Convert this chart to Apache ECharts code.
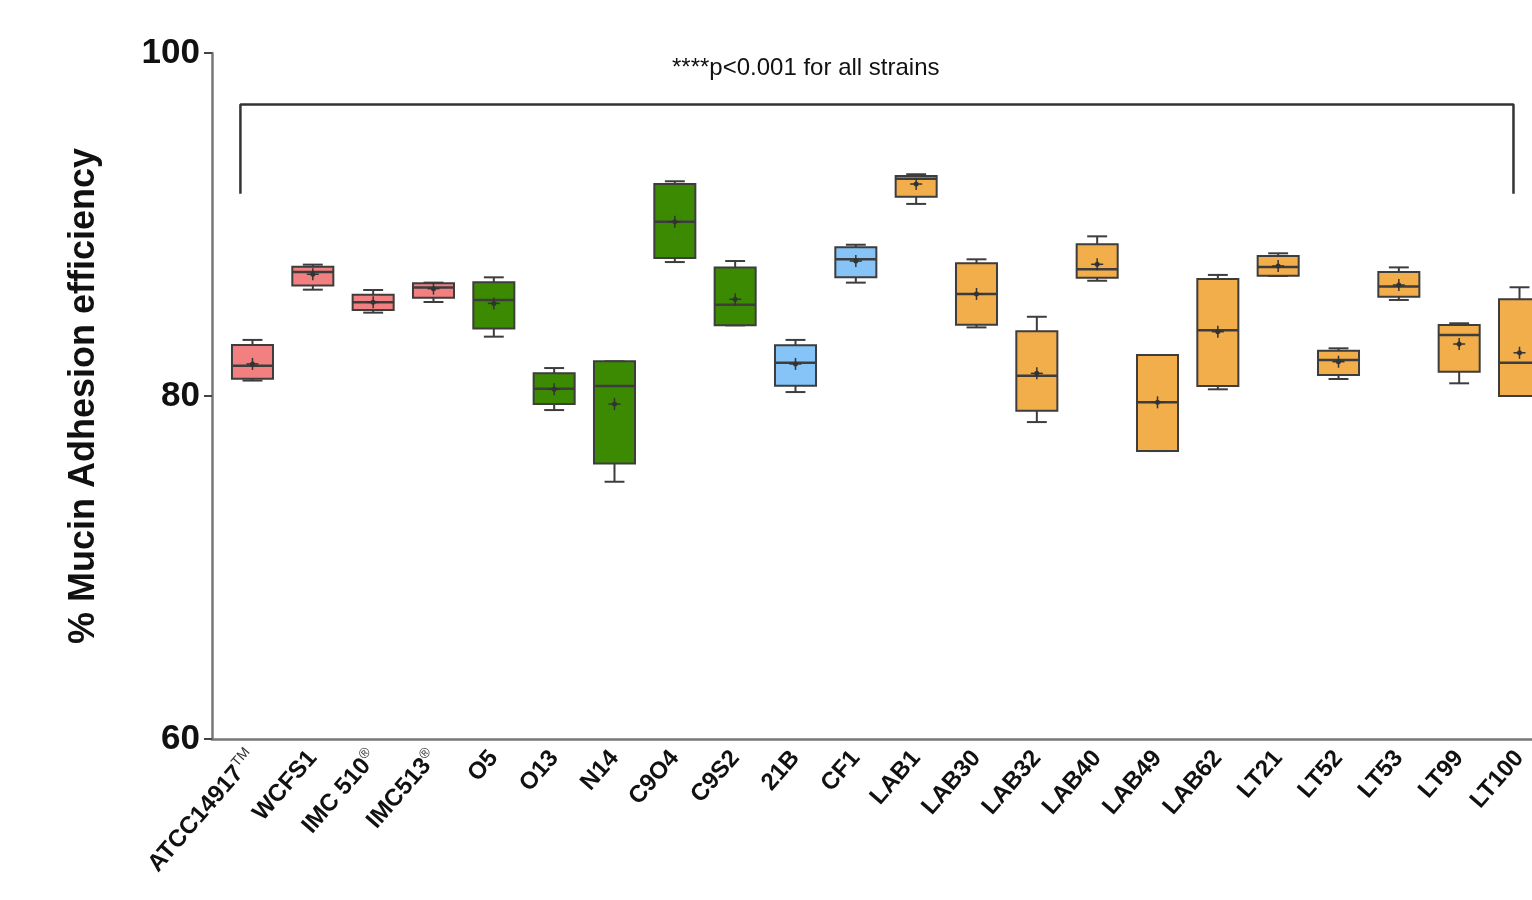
<!DOCTYPE html>
<html>
<head>
<meta charset="utf-8">
<script src="https://cdn.jsdelivr.net/npm/echarts@6/dist/echarts.min.js"></script>
<style>html,body{margin:0;padding:0;background:#fff}#c{width:1532px;height:900px}</style>
</head>
<body>
<div id="c"></div>
<script>
const categories = ['ATCC14917{sup|TM}','WCFS1','IMC 510{sup|®}','IMC513{sup|®}','O5','O13','N14','C9O4','C9S2','21B','CF1','LAB1','LAB30','LAB32','LAB40','LAB49','LAB62','LT21','LT52','LT53','LT99','LT100'];
const groups     = [0,0,0,0,1,1,1,1,1,2,2,3,3,3,3,3,3,3,3,3,3,3];
const whiskerLow = [80.9,86.2,84.86,85.48,83.46,79.18,75.0,87.81,84.12,80.23,86.61,91.2,84.0,78.48,86.72,76.79,80.39,87.0,80.99,85.6,80.74,80.0];
const q1Values   = [81.0,86.45,85.01,85.73,83.94,79.53,76.07,88.05,84.12,80.6,86.92,91.62,84.16,79.14,86.9,76.79,80.58,87.01,81.22,85.79,81.42,80.0];
const medians    = [81.77,87.23,85.46,86.32,85.6,80.43,80.58,90.16,85.32,81.94,87.97,92.67,85.95,81.18,87.39,79.63,83.83,87.52,82.1,86.38,83.56,81.94];
const q3Values   = [82.97,87.54,85.91,86.57,86.63,81.32,82.02,92.36,87.5,82.96,88.67,92.83,87.74,83.77,88.85,82.39,86.82,88.16,82.64,87.23,84.14,85.64];
const whiskerHigh= [83.27,87.66,86.18,86.61,86.92,81.63,82.02,92.52,87.87,83.27,88.82,92.93,87.97,84.62,89.31,82.39,87.06,88.32,82.78,87.5,84.24,86.34];
const means      = [81.87,87.1,85.46,86.26,85.4,80.39,79.53,90.16,85.64,81.87,87.87,92.36,85.95,81.32,87.68,79.63,83.75,87.58,82.0,86.47,83.03,82.52];
const groupColors = ['#F28080','#3C8A02','#86C4F7','#F2AE4B'];
const yTicks = [60, 80, 100];
const titleText = '****p<0.001 for all strains';
const bracketX = [-0.2, -0.2, 20.9, 20.9];
const bracketY = [91.8, 97.0, 97.0, 91.8];

const boxData = categories.map((c, i) => [i, whiskerLow[i], q1Values[i], medians[i], q3Values[i], whiskerHigh[i], means[i], groups[i]]);
const bracketData = bracketX.map((x, i) => [x, bracketY[i]]);

const chart = echarts.init(document.getElementById('c'));
const stroke = '#3d3d3d';
const FONT = 'Liberation Sans, Arial, sans-serif';

function renderBox(params, api) {
  const i = api.value(0);
  const unit = api.size([1, 0])[0];
  const hb = unit * 0.34, hc = unit * 0.165;
  const p = v => api.coord([i, v]);
  const cx = p(0)[0];
  const yLow = p(api.value(1))[1], yQ1 = p(api.value(2))[1], yMed = p(api.value(3))[1];
  const yQ3 = p(api.value(4))[1], yHigh = p(api.value(5))[1], yMean = p(api.value(6))[1];
  const color = groupColors[api.value(7)];
  const ls = {stroke: stroke, lineWidth: 2};
  return {
    type: 'group',
    children: [
      {type: 'line', shape: {x1: cx, y1: yHigh, x2: cx, y2: yQ3}, style: ls},
      {type: 'line', shape: {x1: cx, y1: yQ1, x2: cx, y2: yLow}, style: ls},
      {type: 'line', shape: {x1: cx - hc, y1: yHigh, x2: cx + hc, y2: yHigh}, style: ls},
      {type: 'line', shape: {x1: cx - hc, y1: yLow, x2: cx + hc, y2: yLow}, style: ls},
      {type: 'rect', shape: {x: cx - hb, y: yQ3, width: hb * 2, height: yQ1 - yQ3}, style: {fill: color, stroke: stroke, lineWidth: 2}},
      {type: 'line', shape: {x1: cx - hb, y1: yMed, x2: cx + hb, y2: yMed}, style: {stroke: stroke, lineWidth: 2.5}},
      {type: 'line', shape: {x1: cx - 6, y1: yMean, x2: cx + 6, y2: yMean}, style: {stroke: '#333', lineWidth: 1.5}},
      {type: 'line', shape: {x1: cx, y1: yMean - 6, x2: cx, y2: yMean + 6}, style: {stroke: '#333', lineWidth: 1.5}},
      {type: 'circle', shape: {cx: cx, cy: yMean, r: 2.5}, style: {fill: '#333'}}
    ]
  };
}

chart.setOption({
  animation: false,
  backgroundColor: '#fff',
  textStyle: {fontFamily: FONT},
  title: {
    text: titleText, left: 667, top: 51,
    textStyle: {fontSize: 24, fontWeight: 'normal', color: '#111', fontFamily: FONT}
  },
  grid: {left: 212, right: 0, top: 53, bottom: 161, containLabel: false},
  xAxis: {
    type: 'value', min: -0.671, max: 21.207,
    splitLine: {show: false},
    axisLine: {show: true, onZero: false, lineStyle: {color: '#777', width: 2.5}},
    axisTick: {show: false},
    axisLabel: {
      customValues: categories.map((c, i) => i),
      rotate: 49, margin: 15, color: '#111', fontSize: 24, fontWeight: 'bold',
      fontFamily: FONT,
      formatter: v => categories[Math.round(v)] || '',
      rich: {sup: {fontSize: 14, fontWeight: 'normal', verticalAlign: 'top', color: '#333', padding: [0, 0, 13, 0]}}
    }
  },
  yAxis: {
    type: 'value', min: 60, max: 100, interval: 20,
    splitLine: {show: false},
    axisLine: {show: true, onZero: false, lineStyle: {color: '#777', width: 2.5}},
    axisTick: {show: true, length: 8, lineStyle: {color: '#444', width: 2}},
    axisLabel: {color: '#111', fontSize: 35, fontWeight: 'bold', margin: 12, fontFamily: FONT, formatter: v => yTicks.includes(v) ? String(v) : ''},
    name: '% Mucin Adhesion efficiency', nameLocation: 'middle', nameGap: 110,
    nameTextStyle: {fontSize: 36, fontWeight: 'bold', color: '#111', fontFamily: FONT}
  },
  series: [
    {type: 'custom', renderItem: renderBox, data: boxData, encode: {x: 0, y: [1, 2, 3, 4, 5, 6]}, clip: true, z: 3},
    {type: 'line', data: bracketData, symbol: 'none', lineStyle: {color: '#333', width: 2.5}, z: 2, silent: true}
  ]
});
</script>
</body>
</html>
